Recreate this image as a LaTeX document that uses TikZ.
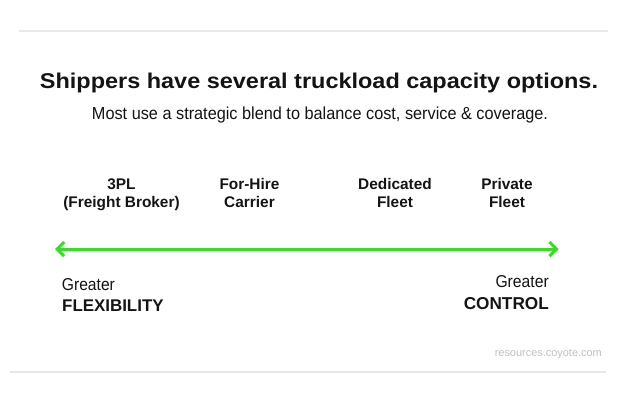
\documentclass[tikz,border=0pt]{standalone}
\usepackage{fontspec}
\setmainfont{Liberation Sans}
\usepackage{graphicx}
\usetikzlibrary{arrows.meta}
\definecolor{arrowgreen}{RGB}{56,222,38}
\definecolor{rulegray}{RGB}{232,232,232}
\definecolor{webgray}{RGB}{192,192,192}
\definecolor{inkblack}{RGB}{20,20,20}
\newcommand\twolines[2]{\begin{tabular}[t]{@{}c@{}}#1\\#2\end{tabular}}
\tikzset{
  optlabel/.style={anchor=base, inner sep=0pt, text=inkblack, font=\bfseries\fontsize{15.4}{18.5}\selectfont},
  plain/.style={inner sep=0pt, text=inkblack},
  rule/.style={rulegray, line width=1.5pt},
  scale arrow/.style={arrowgreen, line width=3pt,
    {Straight Barb[length=7pt,width=14pt]}-{Straight Barb[length=7pt,width=14pt]}},
}
\begin{document}
\begin{tikzpicture}[x=1pt,y=-1pt]
\fill[white] (0,0) rectangle (618,400);
\useasboundingbox (0,0) rectangle (618,400);
% rules
\coordinate (t1) at (19,31); \coordinate (t2) at (608,31);
\coordinate (b1) at (10,372); \coordinate (b2) at (606,372);
\draw[rule] (t1) -- (t2);
\draw[rule] (b1) -- (b2);
% title & subtitle
\node[plain, anchor=base] (title) at (319,88.3)
  {\resizebox{558pt}{15.5pt}{\bfseries Shippers have several truckload capacity options.}};
\node[plain, anchor=base] (subtitle) at (320,119.3)
  {\resizebox{456pt}{12.6pt}{Most use a strategic blend to balance cost, service \& coverage.}};
% options
\node[optlabel] (o1) at (121.5,189) {\twolines{3PL}{(Freight Broker)}};
\node[optlabel] (o2) at (249.5,189) {\twolines{For-Hire}{Carrier}};
\node[optlabel] (o3) at (395,189) {\twolines{Dedicated}{Fleet}};
\node[optlabel] (o4) at (507,189) {\twolines{Private}{Fleet}};
% arrow
\coordinate (aL) at (55,249);
\coordinate (aR) at (558.5,249);
\draw[scale arrow] (aL) -- (aR);
% ends
\node[plain, anchor=base west] (g1) at (61.7,290.5) {\resizebox{53pt}{12pt}{Greater}};
\node[plain, anchor=base west] (f1) at (62,311.5) {\bfseries\fontsize{16.9}{20}\selectfont FLEXIBILITY};
\node[plain, anchor=base east] (g2) at (549,287.7) {\resizebox{53.3pt}{12pt}{Greater}};
\node[plain, anchor=base east] (c2) at (549,309) {\bfseries\fontsize{17.2}{20}\selectfont CONTROL};
% source
\node[inner sep=0pt, anchor=base east, text=webgray] (src) at (602,356.5)
  {\resizebox{107pt}{!}{\fontsize{11}{13}\selectfont resources.coyote.com}};
\end{tikzpicture}
\end{document}
